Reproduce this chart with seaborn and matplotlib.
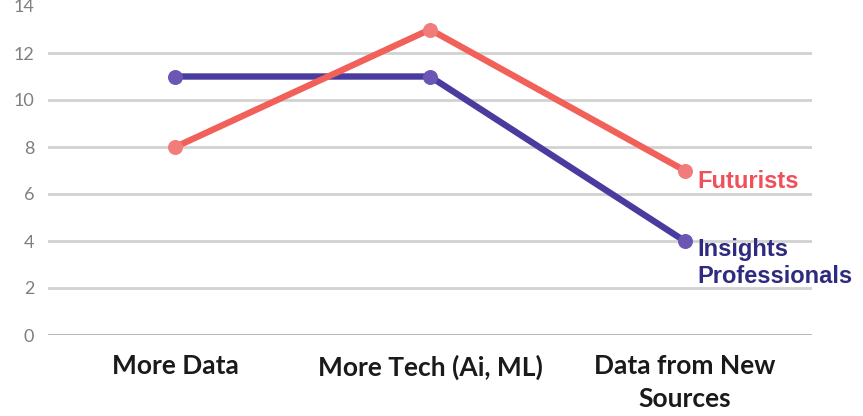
import matplotlib
matplotlib.use("Agg")
import matplotlib.pyplot as plt
import seaborn as sns
import pandas as pd
import numpy as np

# ---- data ----
categories = ["More Data", "More Tech (Ai, ML)", "Data from New\nSources"]
futurists = [8, 13, 7]
insights = [11, 11, 4]
series_labels = ["Futurists", "Insights\nProfessionals"]
yticks = [0, 2, 4, 6, 8, 10, 12, 14]

# ---- styling ----
sns.set_theme(style="white")
plt.rcParams["font.family"] = ["Liberation Sans", "DejaVu Sans"]

fut_line = "#f2605a"
fut_marker = "#f27c7c"
fut_text = "#f0505a"
ins_line = "#4a3b9e"
ins_marker = "#6b56b4"
ins_text = "#2e2a80"

xpos = np.arange(len(categories))
df_ins = pd.DataFrame({"x": xpos, "value": insights})
df_fut = pd.DataFrame({"x": xpos, "value": futurists})

fig = plt.figure(figsize=(8.63, 4.16), dpi=100)
ax = fig.add_axes([48 / 863, 81 / 416, 764 / 863, 329 / 416])

sns.lineplot(data=df_ins, x="x", y="value", ax=ax, color=ins_line, lw=4.6,
             marker="o", markersize=10, markerfacecolor=ins_marker,
             markeredgecolor=ins_marker, sort=False, legend=False, zorder=3)
sns.lineplot(data=df_fut, x="x", y="value", ax=ax, color=fut_line, lw=4.6,
             marker="o", markersize=10, markerfacecolor=fut_marker,
             markeredgecolor=fut_marker, sort=False, legend=False, zorder=4)

ax.set_xlim(-0.5, 2.5)
ax.set_ylim(0, 14)
ax.set_yticks(yticks)
ax.set_yticklabels([str(v) for v in yticks], fontsize=13, color="#7f7f7f",
                   family=["Lato", "DejaVu Sans"])
ax.set_xticks(xpos)
ax.set_xticklabels(categories, fontsize=19, fontweight="bold", color="#1a1a1a",
                   family=["Lato", "DejaVu Sans"], linespacing=1.45)
ax.tick_params(axis="x", length=0, pad=14)
ax.tick_params(axis="y", length=0, pad=10)
ax.set_xlabel("")
ax.set_ylabel("")
for s in ax.spines.values():
    s.set_visible(False)

ax.yaxis.grid(True, color="#d2d2d2", lw=2)
ax.set_axisbelow(True)
gl = ax.get_ygridlines()
gl[0].set_color("#b0b0b0")
gl[-1].set_visible(False)

ax.annotate(series_labels[0], xy=(xpos[-1], futurists[-1]), xytext=(9.4, -7.6),
            textcoords="offset points", ha="left", va="center",
            fontsize=17, fontweight="bold", color=fut_text)
ax.annotate(series_labels[1], xy=(xpos[-1], insights[-1]), xytext=(9.4, -16),
            textcoords="offset points", ha="left", va="center",
            fontsize=17, fontweight="bold", color=ins_text, linespacing=1.2,
            annotation_clip=False)

fig.savefig("out.png", dpi=100)
